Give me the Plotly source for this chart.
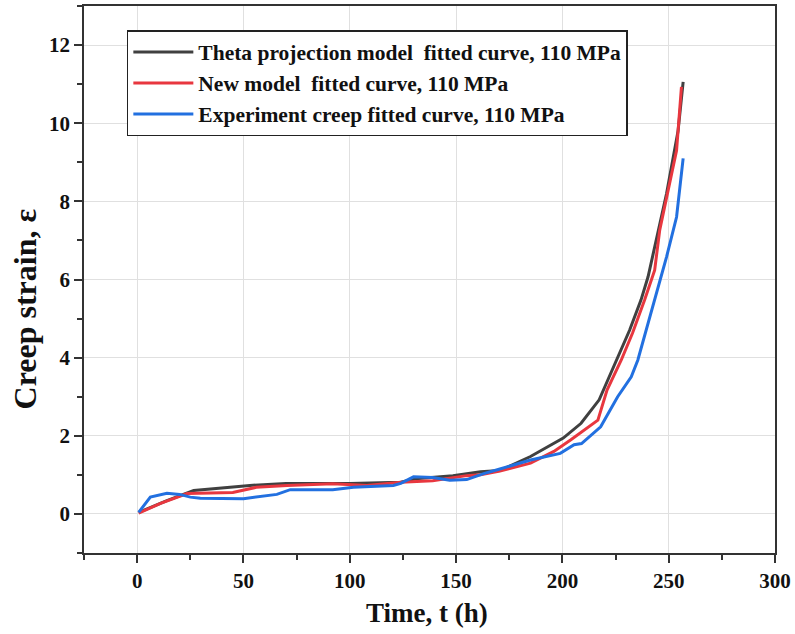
import plotly.graph_objects as go

# Theta projection model fitted curve
t_theta = [0.75, 14, 26.6, 45, 53, 70, 100, 124, 131, 148.5, 161.5, 170.6, 185, 200.4, 208.8, 217.3, 226, 231.6, 237, 240.3, 249, 252.9, 254.4, 256.8]
e_theta = [0.04, 0.34, 0.60, 0.68, 0.73, 0.78, 0.78, 0.81, 0.90, 0.98, 1.08, 1.11, 1.47, 1.94, 2.32, 2.92, 3.98, 4.70, 5.48, 6.07, 8.20, 9.30, 9.80, 11.06]

# New model fitted curve
t_new = [0.7, 11, 23.5, 45, 56, 70.5, 92, 108, 124, 139, 155, 161.5, 170.6, 185, 196, 204, 216.7, 221, 227.7, 233, 238.7, 243.4, 245.8, 250.5, 253.7, 256]
e_new = [0.02, 0.27, 0.52, 0.55, 0.68, 0.73, 0.77, 0.73, 0.81, 0.85, 0.98, 1.00, 1.10, 1.30, 1.60, 1.90, 2.40, 3.17, 3.94, 4.63, 5.48, 6.24, 7.27, 8.46, 9.30, 10.93]

# Experiment creep fitted curve
t_exp = [0.7, 6.2, 14, 20, 25, 29.7, 50, 58, 65.7, 72, 92, 101.7, 120.5, 124, 130, 139, 147, 155, 163, 170.6, 185, 199, 205.5, 209, 218, 226, 232.4, 235.5, 240.3, 243.3, 249, 253.7, 255.2, 256.8]
e_exp = [0.04, 0.43, 0.53, 0.50, 0.43, 0.40, 0.39, 0.44, 0.50, 0.62, 0.62, 0.68, 0.73, 0.78, 0.95, 0.93, 0.86, 0.88, 1.03, 1.15, 1.38, 1.55, 1.77, 1.80, 2.23, 3.00, 3.51, 3.94, 4.88, 5.48, 6.58, 7.60, 8.29, 9.10]

names = ["Theta projection model  fitted curve, 110 MPa",
         "New model  fitted curve, 110 MPa",
         "Experiment creep fitted curve, 110 MPa"]
colors = ["#404040", "#e8373f", "#2270e0"]
x_title = "Time, t (h)"
y_title = "Creep strain, ε"

FONT = "Liberation Serif"

fig = go.Figure()
for t, e, n, c in [(t_theta, e_theta, names[0], colors[0]),
                   (t_new, e_new, names[1], colors[1]),
                   (t_exp, e_exp, names[2], colors[2])]:
    fig.add_trace(go.Scatter(x=t, y=e, mode="lines", name=n,
                             line=dict(color=c, width=3)))

axis_common = dict(
    showline=True, linecolor="#333333", linewidth=1.5, mirror=True,
    ticks="outside", ticklen=8, tickwidth=1.5, tickcolor="#333333",
    showgrid=True, gridcolor="#e0e0e0", gridwidth=1, zeroline=False,
    automargin=False,
    tickfont=dict(family=FONT, size=21, color="#111111", weight="bold"),
)

fig.update_xaxes(range=[-25, 300], dtick=50, tick0=0,
                 minor=dict(ticks="outside", ticklen=5, tickwidth=1.5, tickcolor="#333333", dtick=25, showgrid=False),
                 **axis_common)
fig.update_yaxes(range=[-1, 13], dtick=2, tick0=0,
                 minor=dict(ticks="outside", ticklen=5, tickwidth=1.5, tickcolor="#333333", dtick=1, showgrid=False),
                 **axis_common)

fig.add_annotation(text="<b>" + x_title + "</b>", xref="paper", yref="paper",
                   x=0.496, y=-0.110, xanchor="center", yanchor="middle", showarrow=False,
                   font=dict(family=FONT, size=27, color="#111111"))
fig.add_annotation(text="<b>" + y_title + "</b>", xref="paper", yref="paper",
                   x=-0.084, y=0.447, xanchor="center", yanchor="middle", showarrow=False,
                   textangle=-90, font=dict(family=FONT, size=32, color="#111111"))

fig.update_layout(
    width=795, height=634,
    margin=dict(l=84, r=20, t=6, b=81),
    paper_bgcolor="white", plot_bgcolor="white",
    legend=dict(x=0.062, y=0.956, xanchor="left", yanchor="top",
                bgcolor="white", bordercolor="#222222", borderwidth=1.5,
                font=dict(family=FONT, size=21.5, color="#111111", weight="bold"),
                itemwidth=60, tracegroupgap=0),
    showlegend=True,
)

fig.write_html("out.html", config={"displayModeBar": False},
               post_script="document.body.style.margin='0';")
